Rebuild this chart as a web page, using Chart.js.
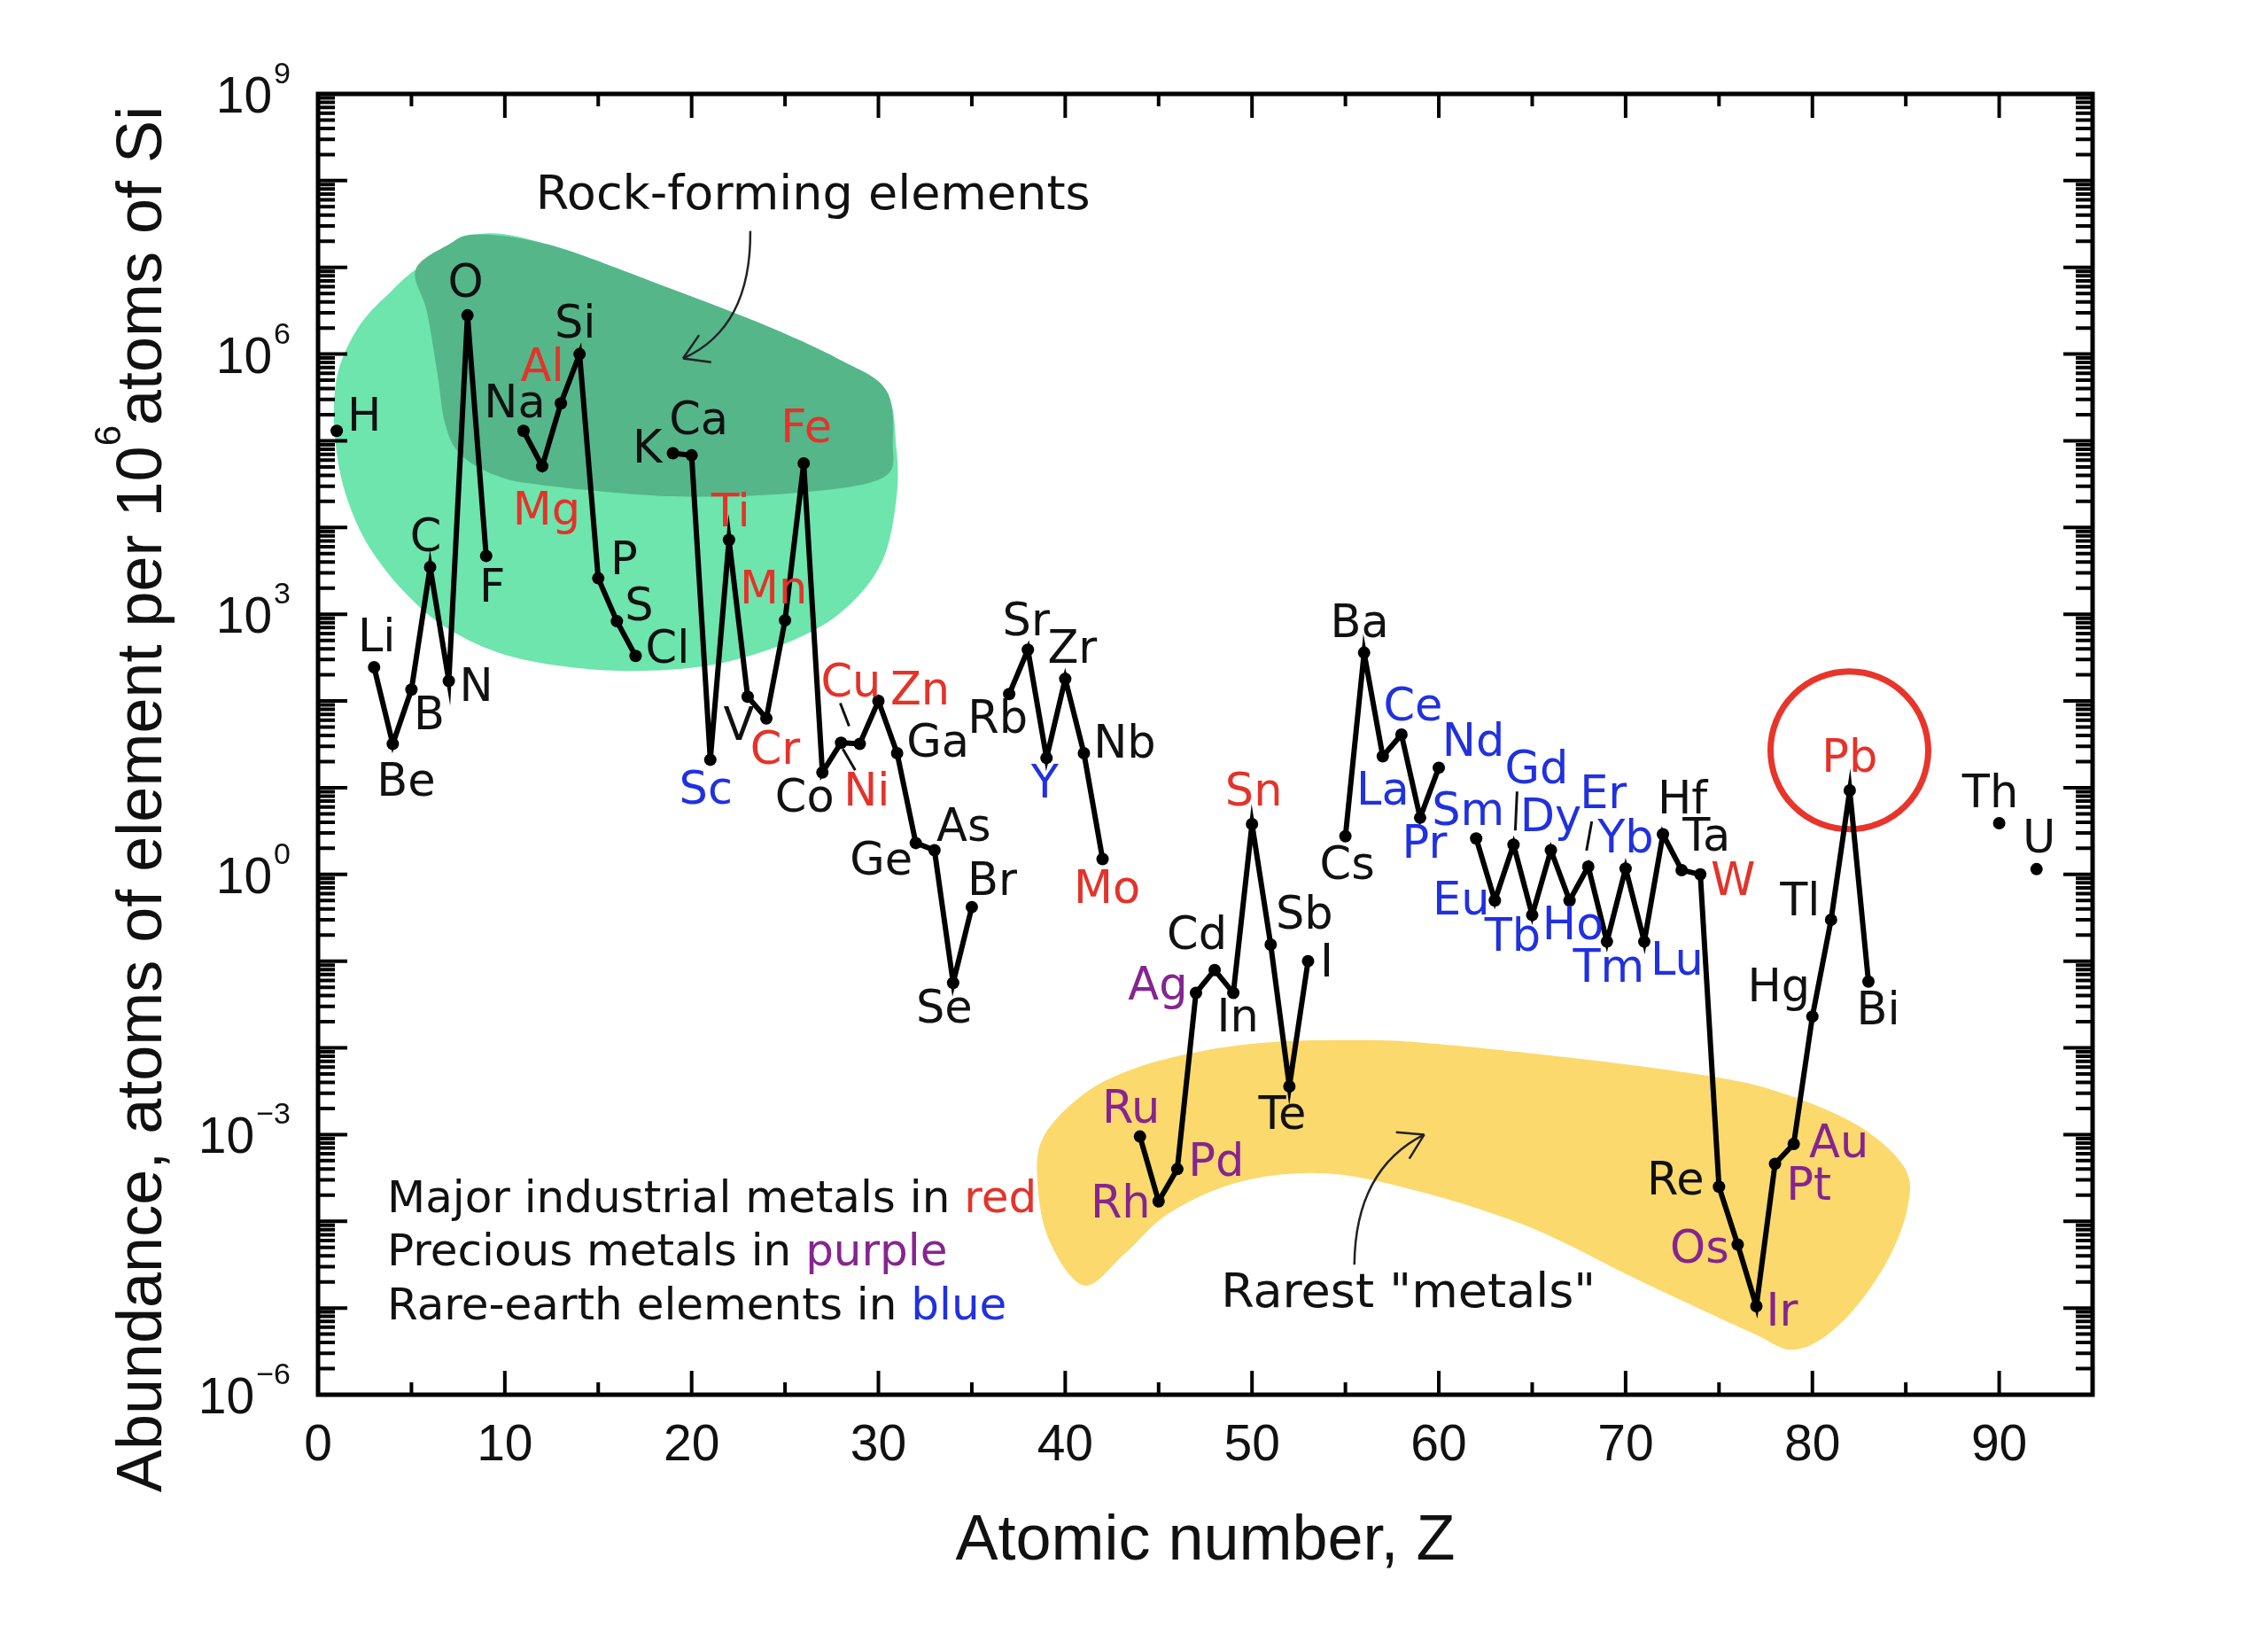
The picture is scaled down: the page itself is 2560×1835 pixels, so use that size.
<!DOCTYPE html>
<html lang="en">
<head>
  <meta charset="UTF-8" />
  <title>Abundance of elements in Earth's upper continental crust</title>
  <script src="https://cdn.jsdelivr.net/npm/chart.js"></script>
  <style>
    html, body { margin: 0; padding: 0; background: #fff; }
    #wrap { width: 2560px; height: 1835px; }
  </style>
</head>
<body>
  <div id="wrap"><canvas id="abundanceChart" width="2560" height="1835"></canvas></div>

  <script>
    // element symbols, Z = index + 1
    const symbols = [
      'H','He','Li','Be','B','C','N','O','F','Ne',
      'Na','Mg','Al','Si','P','S','Cl','Ar','K','Ca',
      'Sc','Ti','V','Cr','Mn','Fe','Co','Ni','Cu','Zn',
      'Ga','Ge','As','Se','Br','Kr','Rb','Sr','Y','Zr',
      'Nb','Mo','Tc','Ru','Rh','Pd','Ag','Cd','In','Sn',
      'Sb','Te','I','Xe','Cs','Ba','La','Ce','Pr','Nd',
      'Pm','Sm','Eu','Gd','Tb','Dy','Ho','Er','Tm','Yb',
      'Lu','Hf','Ta','W','Re','Os','Ir','Pt','Au','Hg',
      'Tl','Pb','Bi','Po','At','Rn','Fr','Ra','Ac','Th',
      'Pa','U'
    ];

    // atoms of element per 10^6 atoms of Si (null = not plotted)
    const abundance = [
      1.3e5, null, 245, 32, 135, 3.5e3, 170, 2.8e6, 4.7e3, null,
      1.3e5, 5.1e4, 2.7e5, 1.0e6, 2.6e3, 830, 330, null, 7.2e4, 6.8e4,
      21, 7.2e3, 112, 63, 850, 5.5e4, 15, 33, 32, 100,
      25, 2.3, 1.9, 0.056, 0.42, null, 120, 390, 22, 180,
      25, 1.5, null, 9.5e-4, 1.7e-4, 4.0e-4, 0.043, 0.079, 0.043, 3.8,
      0.155, 3.6e-3, 0.10, null, 2.75, 360, 23, 41, 4.5, 17,
      null, 2.6, 0.50, 2.2, 0.34, 1.9, 0.50, 1.23, 0.168, 1.17,
      0.168, 2.9, 1.12, 1.0, 2.5e-4, 5.4e-5, 1.05e-5, 4.6e-4, 7.8e-4, 0.023,
      0.30, 9.3, 0.058, null, null, null, null, null, null, 3.9,
      null, 1.15
    ];

    const industrialMetals = ['Mg','Al','Ti','Cr','Mn','Fe','Ni','Cu','Zn','Mo','Sn','W','Pb'];
    const preciousMetals = ['Ru','Rh','Pd','Ag','Os','Ir','Pt','Au'];
    const rareEarths = ['Sc','Y','La','Ce','Pr','Nd','Sm','Eu','Gd','Tb','Dy','Ho','Er','Tm','Yb','Lu'];

    const xTickValues = [0, 10, 20, 30, 40, 50, 60, 70, 80, 90];
    const yLabelExponents = [9, 6, 3, 0, -3, -6];

    const RED = '#e3332a', PURPLE = '#85258f', BLUE = '#2031e0';

    // label placement: pixel offset of label centre from its point
    const labelOffsets = {
      H:[31,-16], Li:[3,-33], Be:[15,43], B:[20,29], C:[-5,-33], N:[31,7], O:[-2,-36], F:[7,36],
      Na:[-10,-31], Mg:[5,51], Al:[-21,-41], Si:[-5,-34], P:[29,-20], S:[25,-16], Cl:[36,-8],
      K:[-29,-5], Ca:[8,-39], Sc:[-5,34], Ti:[2,-31], V:[-10,34], Cr:[10,36], Mn:[-13,-34],
      Fe:[3,-39], Co:[-20,29], Ni:[29,56], Cu:[-10,-69], Zn:[47,-11], Ga:[46,-11], Ge:[-39,20],
      As:[33,-26], Se:[-10,29], Br:[23,-29], Rb:[-13,28], Sr:[-2,-31], Y:[-2,29], Zr:[8,-33],
      Nb:[46,-10], Mo:[5,34], Ru:[-10,-31], Rh:[-43,3], Pd:[44,-8], Ag:[-43,-8], Cd:[-20,-39],
      In:[5,28], Sn:[2,-36], Sb:[38,-33], Te:[-8,33], I:[21,2], Cs:[2,33], Ba:[-5,-33],
      La:[0,39], Ce:[13,-31], Pr:[5,30], Nd:[39,-29], Sm:[-9,-30], Eu:[-38,0], Gd:[26,-85],
      Tb:[-22,25], Dy:[0,-37], Ho:[4,28], Er:[17,-81], Tm:[2,30], Yb:[0,-33], Lu:[37,22],
      Hf:[22,-39], Ta:[28,-37], W:[37,8], Re:[-49,-7], Os:[-43,5], Ir:[29,7], Pt:[38,25],
      Au:[51,0], Hg:[-38,-32], Tl:[-35,-20], Pb:[0,-36], Bi:[11,33], Th:[-10,-33], U:[3,-34]
    };
    // short leader strokes from label to point
    const leaders = { Cu:[[-22,-46],[-12,-20]], Ni:[[2,7],[16,31]], Gd:[[4,-60],[2,-16]], Er:[[4,-51],[-2,-18]] };

    // highlighted regions, outlines given as [Z, log10 abundance]
    const rockOuter = [
      [5.41,7.00],[8.53,7.38],[12.38,7.26],[17.83,6.84],[23.61,6.36],[27.88,5.94],[30.39,5.59],
      [30.96,4.92],[30.96,4.33],[30.20,3.61],[28.26,3.07],[25.56,2.71],[21.67,2.44],[17.83,2.35],
      [13.94,2.38],[10.05,2.53],[6.97,2.83],[4.65,3.25],[2.70,3.79],[1.56,4.33],[1.00,4.86],
      [0.85,5.40],[1.19,5.88],[2.32,6.36],[3.89,6.72]
    ];
    const rockInner = [
      [5.22,6.97],[6.97,7.26],[8.53,7.38],[12.38,7.26],[17.83,6.84],[23.61,6.36],[27.88,5.94],
      [30.39,5.59],[30.77,4.99],[30.20,4.57],[25.56,4.40],[19.0,4.36],[12.0,4.49],[9.53,4.60],
      [7.6,4.85],[6.8,5.2],[6.4,5.76],[5.83,6.49]
    ];
    const rarestBand = [
      [38.5,-3.48],[38.9,-3.0],[41.0,-2.53],[43.67,-2.24],[47.0,-2.05],[50.64,-1.94],[55.0,-1.91],
      [59.13,-1.94],[66.9,-2.11],[74.6,-2.33],[78.5,-2.53],[82.4,-2.89],[84.9,-3.37],[85.1,-3.84],
      [83.9,-4.50],[81.6,-5.16],[79.1,-5.48],[76.6,-5.27],[70.7,-4.68],[65.0,-4.08],[59.2,-3.67],
      [54.1,-3.45],[49.45,-3.54],[45.6,-3.90],[43.2,-4.37],[41.0,-4.74],[39.1,-4.20]
    ];

    const points = abundance.map((v, i) => ({ x: i + 1, y: v }));

    function smoothClosed(ctx, pts) {
      const n = pts.length;
      ctx.beginPath();
      ctx.moveTo(pts[0].x, pts[0].y);
      for (let i = 0; i < n; i++) {
        const p0 = pts[(i - 1 + n) % n], p1 = pts[i], p2 = pts[(i + 1) % n], p3 = pts[(i + 2) % n];
        ctx.bezierCurveTo(
          p1.x + (p2.x - p0.x) / 6, p1.y + (p2.y - p0.y) / 6,
          p2.x - (p3.x - p1.x) / 6, p2.y - (p3.y - p1.y) / 6,
          p2.x, p2.y);
      }
      ctx.closePath();
    }

    function arrow(ctx, a, c, b) {
      ctx.beginPath();
      ctx.moveTo(a.x, a.y);
      ctx.quadraticCurveTo(c.x, c.y, b.x, b.y);
      ctx.stroke();
      const ang = Math.atan2(b.y - c.y, b.x - c.x);
      ctx.beginPath();
      [0.55, -0.55].forEach(d => {
        ctx.moveTo(b.x, b.y);
        ctx.lineTo(b.x - 32 * Math.cos(ang + d), b.y - 32 * Math.sin(ang + d));
      });
      ctx.stroke();
    }

    function labelColor(sym) {
      if (industrialMetals.includes(sym)) return RED;
      if (preciousMetals.includes(sym)) return PURPLE;
      if (rareEarths.includes(sym)) return BLUE;
      return '#111';
    }

    const decorations = {
      id: 'decorations',
      beforeDatasetsDraw(chart) {
        const { ctx, scales: { x, y } } = chart;
        const at = (z, l) => ({ x: x.getPixelForValue(z), y: y.getPixelForValue(Math.pow(10, l)) });
        ctx.save();
        smoothClosed(ctx, rockOuter.map(p => at(p[0], p[1])));
        ctx.fillStyle = '#6de5ad';
        ctx.fill();
        smoothClosed(ctx, rockInner.map(p => at(p[0], p[1])));
        ctx.fillStyle = '#55b68a';
        ctx.fill();
        smoothClosed(ctx, rarestBand.map(p => at(p[0], p[1])));
        ctx.fillStyle = '#fbd96c';
        ctx.fill();

        ctx.strokeStyle = '#222';
        ctx.lineWidth = 2.5;
        arrow(ctx, at(23.14, 7.42), at(23.19, 6.30), at(19.54, 5.95));
        arrow(ctx, at(55.48, -4.50), at(55.53, -3.40), at(59.22, -3.00));

        ctx.font = '54px "DejaVu Sans"';
        ctx.fillStyle = '#111';
        ctx.textAlign = 'center';
        ctx.textBaseline = 'middle';
        let p = at(26.5, 7.815);
        ctx.fillText('Rock-forming elements', p.x, p.y);
        p = at(58.37, -4.84);
        ctx.fillText('Rarest "metals"', p.x, p.y);

        // circle around lead
        p = at(81.98, 1.43);
        ctx.beginPath();
        ctx.arc(p.x, p.y, 89, 0, Math.PI * 2);
        ctx.strokeStyle = '#e8352b';
        ctx.lineWidth = 7;
        ctx.stroke();
        ctx.restore();
      },
      afterDatasetsDraw(chart) {
        const { ctx, chartArea: area, scales: { x, y } } = chart;
        const at = (z, l) => ({ x: x.getPixelForValue(z), y: y.getPixelForValue(Math.pow(10, l)) });
        ctx.save();

        // element labels
        ctx.font = '51px "DejaVu Sans"';
        ctx.textAlign = 'center';
        ctx.textBaseline = 'middle';
        points.forEach((pt, i) => {
          if (pt.y === null) return;
          const sym = symbols[i];
          const off = labelOffsets[sym] || [0, -34];
          const px = x.getPixelForValue(pt.x), py = y.getPixelForValue(pt.y);
          ctx.fillStyle = labelColor(sym);
          ctx.fillText(sym, px + off[0], py + off[1] + 2);
          if (leaders[sym]) {
            const [a, b] = leaders[sym];
            ctx.beginPath();
            ctx.moveTo(px + a[0], py + a[1]);
            ctx.lineTo(px + b[0], py + b[1]);
            ctx.strokeStyle = '#111';
            ctx.lineWidth = 3;
            ctx.stroke();
          }
        });

        // colour key
        const key = [
          ['Major industrial metals in ', 'red', RED],
          ['Precious metals in ', 'purple', PURPLE],
          ['Rare-earth elements in ', 'blue', BLUE]
        ];
        ctx.font = '50px "DejaVu Sans"';
        ctx.textAlign = 'left';
        key.forEach((row, k) => {
          const p = at(3.7, -3.76 - 0.62 * k);
          ctx.fillStyle = '#111';
          ctx.fillText(row[0], p.x, p.y);
          ctx.fillStyle = row[2];
          ctx.fillText(row[1], p.x + ctx.measureText(row[0]).width, p.y);
        });

        // frame with inward ticks on all four sides
        ctx.strokeStyle = '#000';
        ctx.lineWidth = 4;
        ctx.beginPath();
        for (let z = 0; z < 95; z += 5) {
          const xp = x.getPixelForValue(z);
          const len = z % 10 === 0 ? 27 : 14;
          ctx.moveTo(xp, area.bottom); ctx.lineTo(xp, area.bottom - len);
          ctx.moveTo(xp, area.top); ctx.lineTo(xp, area.top + len);
        }
        for (let e = -6; e < 9; e++) {
          for (let m = 1; m <= 9; m++) {
            const yp = y.getPixelForValue(m * Math.pow(10, e));
            const len = m === 1 ? 33 : 19;
            ctx.moveTo(area.left, yp); ctx.lineTo(area.left + len, yp);
            ctx.moveTo(area.right, yp); ctx.lineTo(area.right - len, yp);
          }
        }
        ctx.stroke();
        ctx.lineWidth = 5;
        ctx.strokeRect(area.left, area.top, area.right - area.left, area.bottom - area.top);

        // y tick labels 10^n
        ctx.fillStyle = '#111';
        ctx.textBaseline = 'alphabetic';
        ctx.textAlign = 'right';
        yLabelExponents.forEach(e => {
          const yp = y.getPixelForValue(Math.pow(10, e));
          const sup = e < 0 ? '\u2212' + Math.abs(e) : String(e);
          const right = area.left - 31;
          ctx.font = '34px "Liberation Sans"';
          const sw = ctx.measureText(sup).width;
          ctx.fillText(sup, right, yp - 12);
          ctx.font = '57px "Liberation Sans"';
          ctx.fillText('10', right - sw - 2, yp + 21);
        });

        // y axis title with superscript
        const parts = [
          ['Abundance, atoms of element per 10', 72, 0],
          ['6', 42, -46],
          ['atoms of Si', 72, 0]
        ];
        let total = 0;
        parts.forEach(pr => { ctx.font = pr[1] + 'px "Liberation Sans"'; total += ctx.measureText(pr[0]).width; });
        ctx.translate(157, 902);
        ctx.rotate(-Math.PI / 2);
        ctx.textAlign = 'left';
        let cx = -total / 2;
        parts.forEach(pr => {
          ctx.font = pr[1] + 'px "Liberation Sans"';
          ctx.fillText(pr[0], cx, 25 + pr[2]);
          cx += ctx.measureText(pr[0]).width;
        });
        ctx.restore();
      }
    };

    const ctx = document.getElementById('abundanceChart').getContext('2d');
    new Chart(ctx, {
      type: 'line',
      data: {
        datasets: [{
          data: points,
          borderColor: '#000',
          backgroundColor: '#000',
          borderWidth: 6,
          pointRadius: 7,
          pointHoverRadius: 7,
          pointBorderWidth: 0,
          tension: 0,
          spanGaps: false
        }]
      },
      options: {
        responsive: false,
        animation: false,
        devicePixelRatio: 1,
        layout: { padding: { left: 0, top: 106, right: 198, bottom: 0 } },
        plugins: { legend: { display: false }, tooltip: { enabled: false } },
        scales: {
          x: {
            type: 'linear',
            min: 0,
            max: 95,
            grid: { display: false, drawTicks: false },
            border: { display: false },
            afterBuildTicks: s => { s.ticks = xTickValues.map(v => ({ value: v })); },
            ticks: {
              color: '#111',
              padding: 24,
              maxRotation: 0,
              autoSkip: false,
              font: { family: 'Liberation Sans', size: 57 }
            },
            title: {
              display: true,
              text: 'Atomic number, Z',
              color: '#111',
              font: { family: 'Liberation Sans', size: 72 },
              padding: { top: 0, bottom: 52 }
            },
            afterFit: s => { s.height = 261; }
          },
          y: {
            type: 'logarithmic',
            min: 1e-6,
            max: 1e9,
            grid: { display: false, drawTicks: false },
            border: { display: false },
            ticks: { display: false },
            afterFit: s => { s.width = 359; }
          }
        }
      },
      plugins: [decorations]
    });
  </script>
</body>
</html>
